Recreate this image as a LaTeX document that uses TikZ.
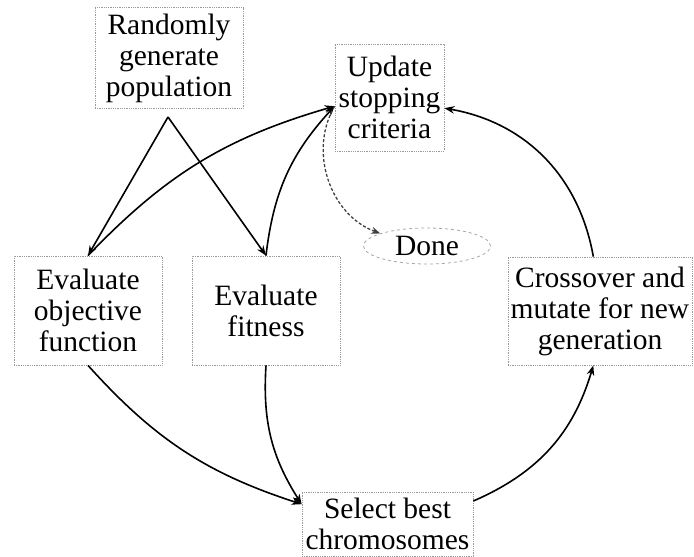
\documentclass[tikz,border=0pt]{standalone}
\usepackage{fontspec}
\setmainfont{Liberation Serif}
\usetikzlibrary{arrows.meta,shapes.geometric}
\begin{document}
\begin{tikzpicture}[x=1pt,y=-1pt,
  box/.style={draw=gray!80, densely dotted, line width=0.8pt, inner sep=0pt, align=center,
    font=\fontsize{29.5}{31}\selectfont},
  conn/.style={draw=black, line width=1.6pt, -{Stealth[length=10pt,width=7.5pt]}},
  dconn/.style={draw=black!75, line width=1.3pt, densely dashed, -{Stealth[length=9pt,width=7pt]}}]
\useasboundingbox (0,0) rectangle (694,557);
\node[box, minimum width=148pt, minimum height=101pt] (rand) at (169,58) {Randomly\\generate\\population};
\node[box, minimum width=109pt, minimum height=107pt] (upd) at (389.5,97.5) {Update\\stopping\\criteria};
\node[box, draw=gray!70, dashed, ellipse, minimum width=127pt, minimum height=36pt] (done) at (427,246) {Done};
\node[box, minimum width=148pt, minimum height=109pt] (evobj) at (88,310.5) {Evaluate\\objective\\function};
\node[box, minimum width=148pt, minimum height=109pt] (evfit) at (266,310.5) {Evaluate\\fitness};
\node[box, minimum width=184pt, minimum height=108pt] (cross) at (600,311) {Crossover and\\mutate for new\\generation};
\node[box, minimum width=171pt, minimum height=64pt] (sel) at (387.5,524) {Select best\\chromosomes};
\coordinate (apex) at (168,117);
\draw[conn] (apex) -- (evobj.north);
\draw[conn] (apex) -- (evfit.north);
\draw[conn] (evobj.north) to[bend left=15] (upd.189);
\draw[conn] (evfit.north) to[bend left=18] (upd.189);
\draw[dconn] (upd.189) to[bend right=50] (done.165);
\draw[conn] (cross.97) to[bend right=35] (upd.-11);
\draw[conn] (evobj.south) to[bend right=15] (sel.167);
\draw[conn] (evfit.south) to[bend right=18] (sel.167);
\draw[conn] (sel.15) to[bend right=25] (cross.263);
\end{tikzpicture}
\end{document}
